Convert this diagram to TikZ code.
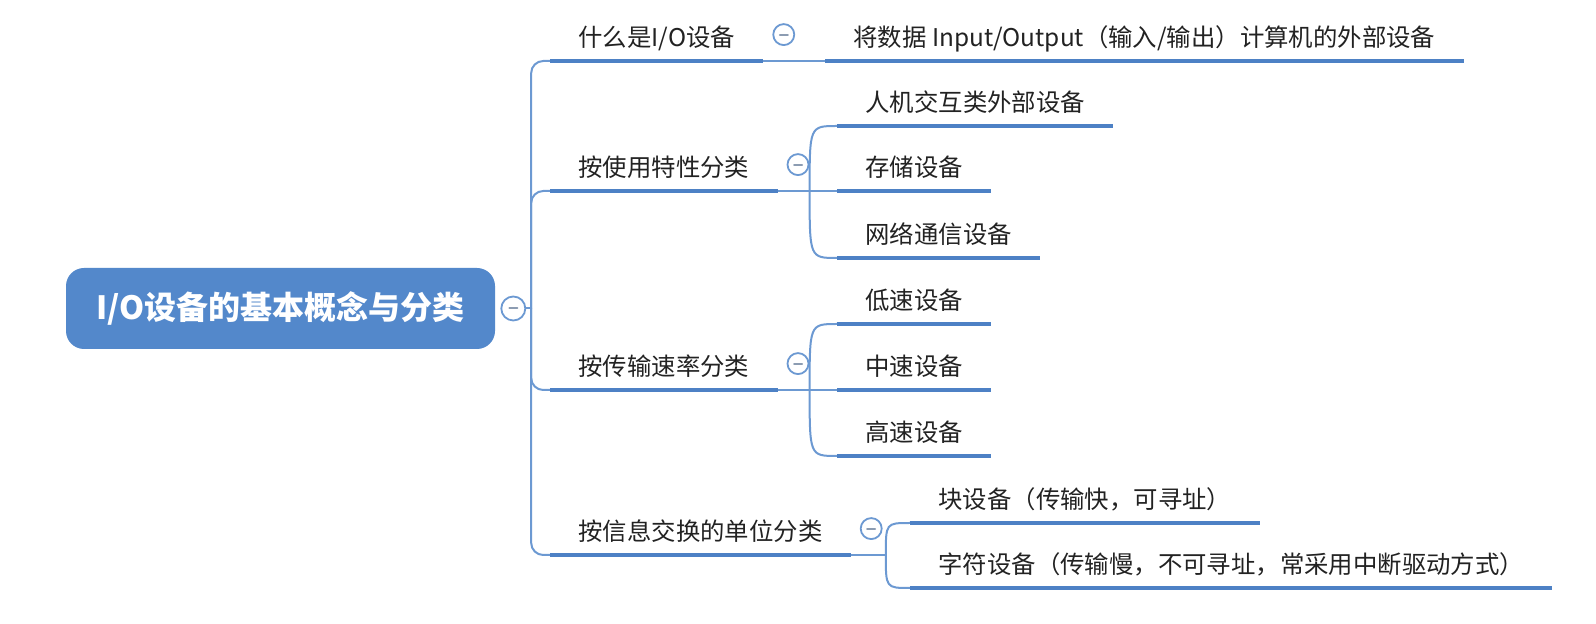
\documentclass[tikz,border=0pt]{standalone}
\usepackage{fontspec}
\setmainfont{Noto Sans CJK SC}
\usetikzlibrary{positioning,calc}
\definecolor{mapblue}{HTML}{5388CB}
\definecolor{lineblue}{HTML}{4D81C5}
\definecolor{thinblue}{HTML}{6C99D2}
\definecolor{minusgray}{HTML}{8C9CB2}
\definecolor{topictext}{HTML}{222222}
\tikzset{
  topic/.style={anchor=south west, inner xsep=14pt, inner ysep=5pt, text height=9pt, text depth=2pt,
    font=\fontsize{12.2}{14}\selectfont, text=topictext},
  fold/.style={circle, draw=thinblue, line width=0.9pt, fill=white, minimum size=10.5pt, inner sep=0pt,
    path picture={\draw[minusgray, line width=1pt]
      ([xshift=-2pt]path picture bounding box.center) -- ([xshift=2pt]path picture bounding box.center);}},
  uline/.style={lineblue, line width=2.2pt, line cap=butt},
  link/.style={thinblue, line width=1pt},
}
\begin{document}
\begin{tikzpicture}[x=0.5pt, y=-0.5pt, line join=round, line cap=round]
  \useasboundingbox (0,0) rectangle (1596,624);
  % central topic
  \node[fill=mapblue, rounded corners=9pt, minimum width=214.5pt, minimum height=40.5pt,
    text=white, font=\fontsize{16}{18}\selectfont\bfseries] (root) at (280.5,308.5) {I/O设备的基本概念与分类};
  \node[fold, minimum size=12pt, right=2.5pt of root] (c0) {};
  \coordinate[right=2.5pt of c0.east] (hub);
  % main branches
  \node[topic] (t1) at (550,61) {什么是I/O设备};
  \node[topic] (t2) at (550,191) {按使用特性分类};
  \node[topic] (t3) at (550,390) {按传输速率分类};
  \node[topic] (t4) at (550,555) {按信息交换的单位分类};
  % sub topics
  \node[topic] (d1) at (825,61) {将数据 Input/Output（输入/输出）计算机的外部设备};
  \node[topic] (e1) at (837,126) {人机交互类外部设备};
  \node[topic] (e2) at (837,191) {存储设备};
  \node[topic] (e3) at (837,258) {网络通信设备};
  \node[topic] (s1) at (837,324) {低速设备};
  \node[topic] (s2) at (837,390) {中速设备};
  \node[topic] (s3) at (837,456) {高速设备};
  \node[topic] (u1) at (910,523) {块设备（传输快，可寻址）};
  \node[topic] (u2) at (910,588) {字符设备（传输慢，不可寻址，常采用中断驱动方式）};
  % collapse buttons
  \foreach \t/\c in {t1/c1,t2/c2,t3/c3,t4/c4}
    \node[fold, right=4.5pt of \t.east, yshift=2.5pt] (\c) {};
  % trunk
  \draw[link] (c0) -- (hub);
  \foreach \t in {t1,t2,t3,t4}
    \draw[link, rounded corners=6pt] (hub) |- (\t.south west);
  % forks
  \coordinate (f2) at ($(t2.south east)+(32,0)$);
  \coordinate (f3) at ($(t3.south east)+(32,0)$);
  \coordinate (f4) at ($(t4.south east)+(35,0)$);
  \draw[link] (t1.south east) -- (d1.south west);
  \foreach \f/\t in {f2/t2,f3/t3,f4/t4}
    \draw[link] (\t.south east) -- (\f);
  \foreach \f/\d in {f2/e1,f2/e2,f2/e3,f3/s1,f3/s2,f3/s3,f4/u1,f4/u2}
    \draw[link] (\f) .. controls (\f |- \d.south west) .. (\d.south west);
  % underlines
  \foreach \n in {t1,t2,t3,t4,d1,e1,e2,e3,s1,s2,s3,u1,u2}
    \draw[uline] (\n.south west) -- (\n.south east);
\end{tikzpicture}
\end{document}
